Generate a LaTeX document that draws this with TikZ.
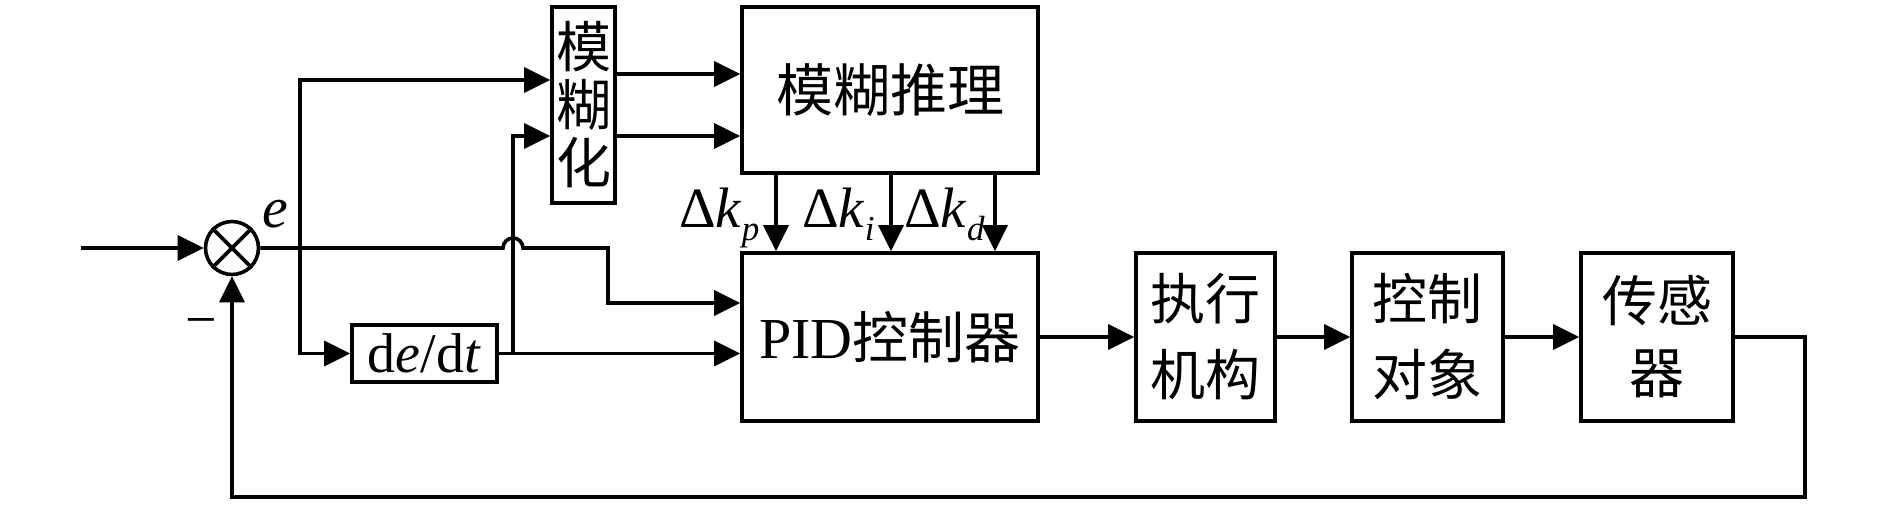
\documentclass[tikz,border=0pt]{standalone}
\usepackage{fontspec}
\setmainfont{Liberation Serif}
\newfontfamily\cjk{Noto Sans CJK SC}
\usetikzlibrary{arrows.meta}
\begin{document}
\begin{tikzpicture}[x=1pt,y=-1pt,
  blk/.style={draw, line width=3.6pt, inner sep=0pt, align=center},
  arr/.style={line width=3.6pt, -{Triangle[length=26pt,width=25pt]}},
  ln/.style={line width=3.6pt},
  lbl/.style={inner sep=0pt}
]
\useasboundingbox (0,0) rectangle (1890,505);

% blocks
\node[blk, minimum width=63pt, minimum height=196pt, font=\cjk\fontsize{55}{58}\selectfont] (fuzz) at (583.5,105) {模\\糊\\化};
\node[blk, minimum width=296pt, minimum height=166pt, font=\cjk\fontsize{57}{60}\selectfont] (infer) at (890,90) {模糊推理};
\node[blk, minimum width=296pt, minimum height=168pt, font=\fontsize{58}{60}\selectfont] (pid) at (890,337) {PID{\cjk\fontsize{56}{60}\selectfont 控制器}};
\node[blk, minimum width=145pt, minimum height=57pt, font=\fontsize{56}{60}\selectfont] (dedt) at (424.5,353.5) {d\textit{e}/d\textit{t}};
\node[blk, minimum width=139pt, minimum height=168pt, font=\cjk\fontsize{55}{76}\selectfont] (act) at (1205.5,337) {执行\\机构};
\node[blk, minimum width=151pt, minimum height=168pt, font=\cjk\fontsize{55}{76}\selectfont] (plant) at (1427.5,337) {控制\\对象};
\node[blk, minimum width=152pt, minimum height=168pt, font=\cjk\fontsize{55}{72}\selectfont] (sensor) at (1657,337) {传感\\器};

% summing junction
\node[draw, circle, line width=3.6pt, minimum size=53pt, inner sep=0pt] (s) at (232,248) {};
\draw[ln] (s.north east) -- (s.south west) (s.north west) -- (s.south east);

% labels
\node[lbl, anchor=base west, font=\fontsize{58}{60}\selectfont\itshape] (elab) at (262,228) {e};
\node[lbl, font=\fontsize{56}{56}\selectfont] (minus) at (201,329) {−};
\node[lbl, anchor=base west, font=\fontsize{57}{60}\selectfont] (kp) at (679,228) {Δ\textit{k}\raisebox{-13pt}{\fontsize{35}{36}\selectfont\textit{p}}};
\node[lbl, anchor=base west, font=\fontsize{57}{60}\selectfont] (ki) at (802,228) {Δ\textit{k}\raisebox{-13pt}{\fontsize{35}{36}\selectfont\textit{i}}};
\node[lbl, anchor=base west, font=\fontsize{57}{60}\selectfont] (kd) at (904,228) {Δ\textit{k}\raisebox{-13pt}{\fontsize{35}{36}\selectfont\textit{d}}};

% helper coordinates
\coordinate (in) at (81,248);
\coordinate (b1) at (300,248);
\coordinate (b1top) at (300,80);
\coordinate (b2) at (513,353.5);
\coordinate (b2top) at (513,136);
\coordinate (y74) at (0,74);
\coordinate (j3) at (608,303);
\coordinate (xp) at (776,0);
\coordinate (xi) at (891,0);
\coordinate (xd) at (995,0);
\coordinate (fb) at (1805,497);

% connectors
\draw[arr] (in) -- (s.west);
\draw[arr] (s.east) -- (503,248) arc[start angle=180, end angle=360, radius=10] -- (608,248) -- (j3) -- (pid.west |- j3);
\draw[arr] (b1) -- (b1top) -- (fuzz.west |- b1top);
\draw[arr] (b1) |- (dedt.west);
\draw[arr] (dedt.east) -- (pid.west |- dedt.east);
\draw[arr] (b2) -- (b2top) -- (fuzz.west |- b2top);
\draw[arr] (fuzz.east |- y74) -- (infer.west |- y74);
\draw[arr] (fuzz.east |- b2top) -- (infer.west |- b2top);
\draw[arr] (infer.south -| xp) -- (pid.north -| xp);
\draw[arr] (infer.south -| xi) -- (pid.north -| xi);
\draw[arr] (infer.south -| xd) -- (pid.north -| xd);
\draw[arr] (pid.east) -- (act.west);
\draw[arr] (act.east) -- (plant.west);
\draw[arr] (plant.east) -- (sensor.west);
\draw[arr] (sensor.east) -| (fb) -| (s.south);
\end{tikzpicture}
\end{document}
